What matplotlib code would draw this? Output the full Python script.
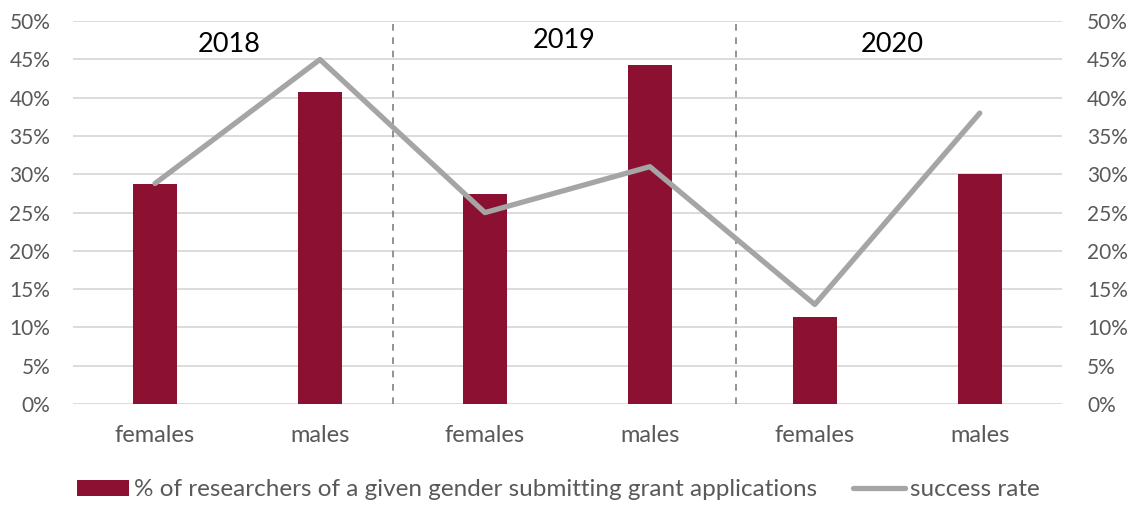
import numpy as np
import matplotlib.pyplot as plt
from matplotlib.ticker import PercentFormatter

plt.rcParams['font.family'] = ['Lato', 'DejaVu Sans']

# Datos
categorias = ['females', 'males', 'females', 'males', 'females', 'males']
anios = ['2018', '2019', '2020']
solicitudes = [28.7, 40.8, 27.4, 44.3, 11.4, 30.0]
tasa_exito = [28.8, 45.0, 25.0, 31.0, 13.0, 38.0]

color_barra = '#8B1031'
color_linea = '#A5A5A5'
color_texto = '#595959'

fig = plt.figure(figsize=(11.35, 5.05), dpi=100)
ax = fig.add_axes([0.0639, 0.2, 0.872, 0.758])
x = np.arange(len(categorias))

barras = ax.bar(x, solicitudes, width=0.27, color=color_barra, zorder=3,
                label='% of researchers of a given gender submitting grant applications')
ax.set_xlim(-0.5, len(categorias) - 0.5)
ax.set_ylim(0, 50)
ax.set_yticks(np.arange(0, 51, 5))
ax.yaxis.set_major_formatter(PercentFormatter(decimals=0))
ax.grid(axis='y', color='#D9D9D9', linewidth=1.3, zorder=0)
ax.set_xticks(x)
ax.set_xticklabels(categorias)
ax.tick_params(axis='x', length=0, pad=15, labelsize=17, labelcolor=color_texto)
ax.tick_params(axis='y', length=0, pad=16, labelsize=15, labelcolor=color_texto)
for s in ax.spines.values():
    s.set_visible(False)

# Separadores de año
for xs in [1.44, 3.52]:
    ax.axvline(xs, color='#808080', linestyle=(0, (4, 4)), linewidth=1.2, zorder=2)

# Etiquetas de año
for xa, ya, txt in zip([0.45, 2.48, 4.47], [47.0, 47.5, 47.0], anios):
    ax.text(xa, ya, txt, ha='center', va='center', fontsize=19.5, color='black', zorder=5)

# Eje secundario para la tasa de éxito
ax2 = ax.twinx()
linea, = ax2.plot(x, tasa_exito, color=color_linea, linewidth=3.8,
                  solid_capstyle='round', zorder=4, label='success rate')
ax2.set_ylim(0, 50)
ax2.set_yticks(np.arange(0, 51, 5))
ax2.yaxis.set_major_formatter(PercentFormatter(decimals=0))
ax2.tick_params(axis='y', length=0, pad=18, labelsize=15, labelcolor=color_texto)
for s in ax2.spines.values():
    s.set_visible(False)

fig.legend([barras, linea], [barras.get_label(), linea.get_label()],
           loc='center', bbox_to_anchor=(0.492, 0.03), ncol=2, frameon=False,
           fontsize=17.5, labelcolor=color_texto, handlelength=2.14, handleheight=0.62,
           handletextpad=0.2, columnspacing=1.45)

fig.savefig('out.png', dpi=100)
